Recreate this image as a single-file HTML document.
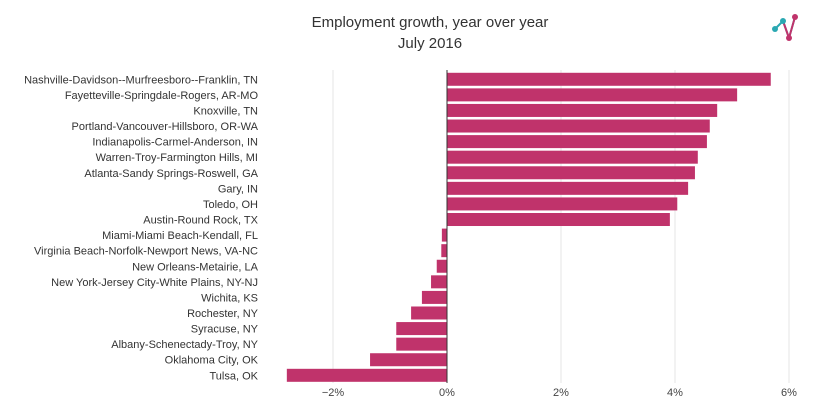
<!DOCTYPE html>
<html><head><meta charset="utf-8"><style>
body{margin:0;background:#fff;font-family:"Liberation Sans",sans-serif}
svg text{font-family:"Liberation Sans",sans-serif}
</style></head><body>
<svg width="817" height="413">
<text x="430" y="27" text-anchor="middle" font-size="15" fill="#333">Employment growth, year over year</text>
<text x="430" y="48" text-anchor="middle" font-size="15" fill="#333">July 2016</text>
<g>
<polyline points="775,29 783,21 789,38 795,17" fill="none" stroke="#2aa8b2" stroke-width="2"/>
<line x1="783" y1="21" x2="789" y2="38" stroke="#c0336b" stroke-width="2"/>
<line x1="789" y1="38" x2="795" y2="17" stroke="#c0336b" stroke-width="2"/>
<circle cx="775" cy="29" r="3" fill="#2aa8b2"/><circle cx="783" cy="21" r="3" fill="#2aa8b2"/>
<circle cx="789" cy="38" r="3" fill="#c0336b"/><circle cx="795" cy="17" r="3" fill="#c0336b"/>
</g>
<g id="grid"></g><g id="bars"></g><g id="labels"></g><g id="ticks"></g>
</svg>
<script>
const categories=["Nashville-Davidson--Murfreesboro--Franklin, TN","Fayetteville-Springdale-Rogers, AR-MO","Knoxville, TN","Portland-Vancouver-Hillsboro, OR-WA","Indianapolis-Carmel-Anderson, IN","Warren-Troy-Farmington Hills, MI","Atlanta-Sandy Springs-Roswell, GA","Gary, IN","Toledo, OH","Austin-Round Rock, TX","Miami-Miami Beach-Kendall, FL","Virginia Beach-Norfolk-Newport News, VA-NC","New Orleans-Metairie, LA","New York-Jersey City-White Plains, NY-NJ","Wichita, KS","Rochester, NY","Syracuse, NY","Albany-Schenectady-Troy, NY","Oklahoma City, OK","Tulsa, OK"];
const values=[5.68,5.09,4.74,4.61,4.56,4.40,4.35,4.23,4.04,3.91,-0.09,-0.10,-0.18,-0.28,-0.44,-0.63,-0.89,-0.89,-1.35,-2.81];
const tickValues=[-2,0,2,4,6];
const tickLabels=["\u22122%","0%","2%","4%","6%"];
const NS="http://www.w3.org/2000/svg";
const x=v=>447+v*57;
const top0=71.5,band=15.58,bh=13;
const y=i=>top0+i*band;
function mk(t,a,p){const e=document.createElementNS(NS,t);for(const k in a)e.setAttribute(k,a[k]);document.getElementById(p).appendChild(e);return e;}
tickValues.forEach((t,i)=>{
  if(t!==0){const g=mk('line',{x1:x(t),x2:x(t),y1:70,y2:383,stroke:'#e6e6e6','stroke-width':1},'grid');
  
  }
  const tx=mk('text',{x:x(t),y:396,'text-anchor':'middle','font-size':11,fill:'#444'},'ticks');
  tx.textContent=tickLabels[i];
  
  
});
values.forEach((v,i)=>{
  const r=mk('rect',{x:Math.min(x(0),x(v)),y:y(i)+(band-bh)/2,width:Math.abs(x(v)-x(0)),height:bh,fill:'#c0336b'},'bars');
  
  
  const l=mk('text',{x:258,y:y(i)+band/2+4,'text-anchor':'end','font-size':11,fill:'#333'},'labels');
  l.textContent=categories[i];
  
  
});
const z=mk('line',{x1:x(0),x2:x(0),y1:70,y2:383,stroke:'#333','stroke-width':1},'ticks');


</script>
</body></html>
